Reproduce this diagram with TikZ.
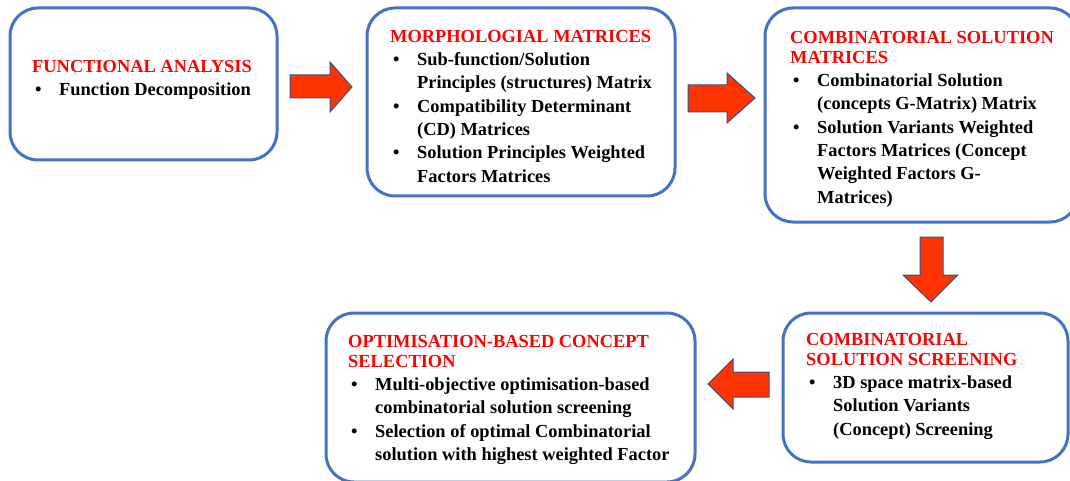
\documentclass[tikz,border=0pt]{standalone}
\usepackage{fontspec}
\setmainfont{Liberation Serif}
\definecolor{boxblue}{HTML}{4472C4}
\definecolor{arrowred}{HTML}{FF3300}
\definecolor{arrowedge}{HTML}{2F528F}
\definecolor{titlered}{HTML}{FF0000}
\newcommand\bulitem{\makebox[27pt][l]{\hspace{3pt}\textbullet}}
\newcommand\contline{\hspace*{27pt}}
\begin{document}
\begin{tikzpicture}[x=1pt,y=-1pt,
  flowbox/.style={draw=boxblue,line width=3pt,rounded corners=28pt,fill=white,inner sep=0pt},
  blockarrow/.style={fill=arrowred,draw=arrowedge,line width=1pt,line join=miter},
  txt/.style={anchor=north west,inner sep=0pt,align=left,font=\bfseries\fontsize{18.4}{23.3}\selectfont},
  ttl/.style={text=titlered}]
\useasboundingbox (0,0) rectangle (1070,481);

% boxes
\node[flowbox,minimum width=267pt,minimum height=152pt] (b1) at (143.5,84) {};
\node[flowbox,minimum width=308pt,minimum height=188pt] (b2) at (521,102) {};
\node[flowbox,minimum width=313pt,minimum height=214pt] (b3) at (921.5,115) {};
\node[flowbox,minimum width=285pt,minimum height=149pt] (b4) at (925.5,387.5) {};
\node[flowbox,minimum width=369pt,minimum height=169pt] (b5) at (510.5,397.5) {};

% block arrows
\draw[blockarrow] (290,75)--(330,75)--(330,62)--(352,87)--(330,112)--(330,98)--(290,98)--cycle;
\draw[blockarrow] (688,85)--(727,85)--(727,73)--(755,98)--(727,123)--(727,112)--(688,112)--cycle;
\draw[blockarrow] (920,237)--(943,237)--(943,275)--(958,275)--(931,302)--(903,275)--(920,275)--cycle;
\draw[blockarrow] (769,372)--(733,372)--(733,359)--(708,384)--(733,409)--(733,397)--(769,397)--cycle;

% texts
\node[txt] (t1) at (32,55.8) {\strut\textcolor{titlered}{FUNCTIONAL ANALYSIS}\\
\bulitem Function Decomposition};

\node[txt] (t2) at (390,25.8) {\strut\textcolor{titlered}{MORPHOLOGIAL MATRICES}\\
\bulitem Sub-function/Solution\\
\contline Principles (structures) Matrix\\
\bulitem Compatibility Determinant\\
\contline (CD) Matrices\\
\bulitem Solution Principles Weighted\\
\contline Factors Matrices};

\node[txt] (t3) at (790,26.8) {\strut\textcolor{titlered}{COMBINATORIAL SOLUTION}\\[-3.3pt]
\textcolor{titlered}{MATRICES}\\
\bulitem Combinatorial Solution\\
\contline (concepts G-Matrix) Matrix\\
\bulitem Solution Variants Weighted\\
\contline Factors Matrices (Concept\\
\contline Weighted Factors G-\\
\contline Matrices)};

\node[txt] (t4) at (806,328.8) {\strut\textcolor{titlered}{COMBINATORIAL}\\[-3.3pt]
\textcolor{titlered}{SOLUTION SCREENING}\\
\bulitem 3D space matrix-based\\
\contline Solution Variants\\
\contline (Concept) Screening};

\node[txt] (t5) at (348,330.8) {\strut\textcolor{titlered}{OPTIMISATION-BASED CONCEPT}\\[-3.3pt]
\textcolor{titlered}{SELECTION}\\
\bulitem Multi-objective optimisation-based\\
\contline combinatorial solution screening\\
\bulitem Selection of optimal Combinatorial\\
\contline solution with highest weighted Factor};
\end{tikzpicture}
\end{document}
